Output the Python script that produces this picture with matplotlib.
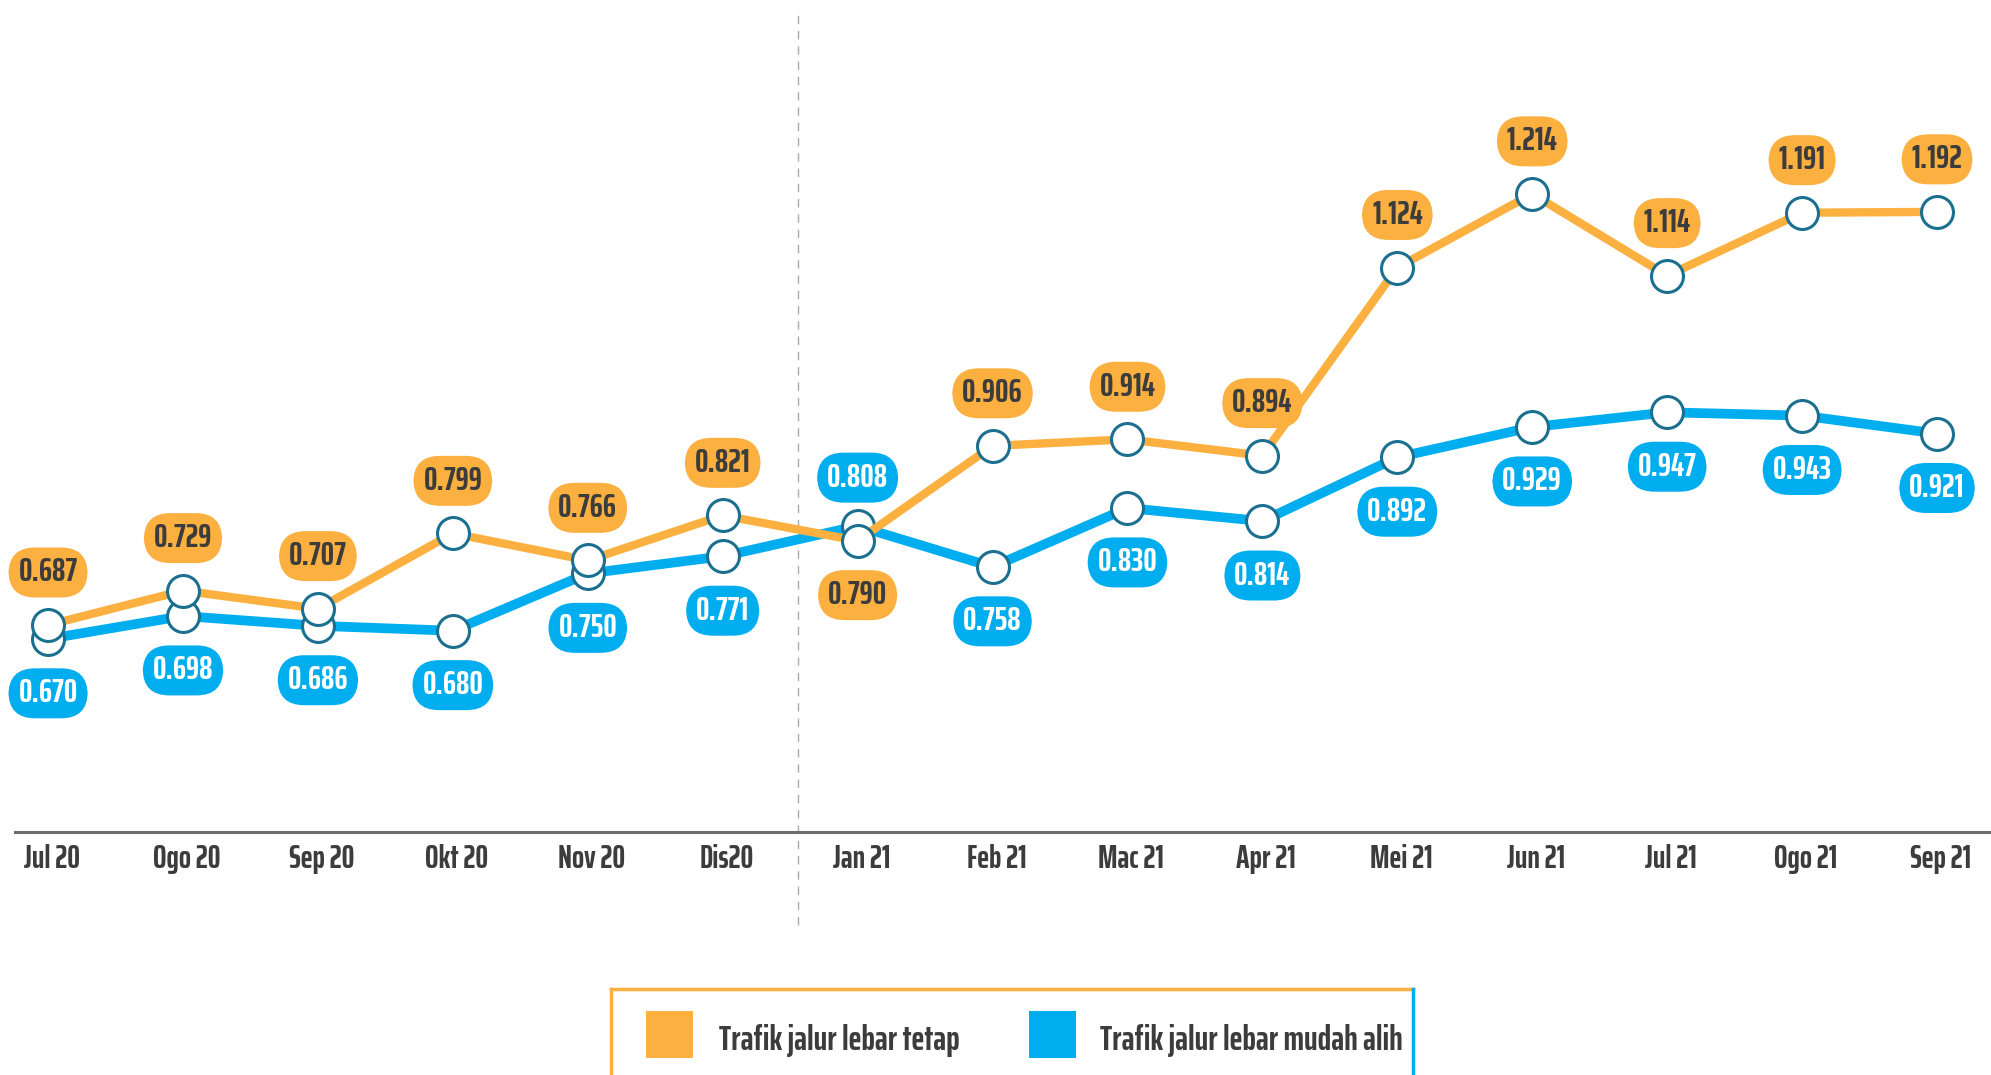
import matplotlib.pyplot as plt
import matplotlib.transforms as mtransforms
from matplotlib.patches import Rectangle
from matplotlib.lines import Line2D

months = ['Jul 20', 'Ogo 20', 'Sep 20', 'Okt 20', 'Nov 20', 'Dis20', 'Jan 21',
          'Feb 21', 'Mac 21', 'Apr 21', 'Mei 21', 'Jun 21', 'Jul 21', 'Ogo 21', 'Sep 21']
tetap = [0.687, 0.729, 0.707, 0.799, 0.766, 0.821, 0.790,
         0.906, 0.914, 0.894, 1.124, 1.214, 1.114, 1.191, 1.192]
mudah_alih = [0.670, 0.698, 0.686, 0.680, 0.750, 0.771, 0.808,
              0.758, 0.830, 0.814, 0.892, 0.929, 0.947, 0.943, 0.921]
series_names = ['Trafik jalur lebar tetap', 'Trafik jalur lebar mudah alih']

ORANGE = '#FBB040'
BLUE = '#00AEEF'
DARK = '#3C3C3C'
EDGE = '#1B6F8F'

plt.rcParams['font.family'] = ['Saira ExtraCondensed', 'DejaVu Sans']
plt.rcParams['font.weight'] = 'bold'

fig = plt.figure(figsize=(19.91, 10.75), dpi=100)
ax = fig.add_axes([15 / 1991, 1 - 832 / 1075, 1 - 15 / 1991, 832 / 1075])
ax.set_xlim(-0.245, 14.40)
ax.set_ylim(0.434, 1.451)

x = list(range(len(months)))
mk = dict(marker='o', markersize=23, markerfacecolor='white',
          markeredgecolor=EDGE, markeredgewidth=2.2)
ax.plot(x, mudah_alih, color=BLUE, lw=7, zorder=2, **mk)
ax.plot(x, tetap, color=ORANGE, lw=6, zorder=3, **mk)

# value labels: orange above, blue below (swapped at Jan 21)
swap = [6]
box = 'round,pad=0.3,rounding_size=0.8'
for i in x:
    up = i not in swap
    ax.annotate(f'{tetap[i]:.3f}', (i, tetap[i]), xytext=(0, 40 if up else -37),
                textcoords='offset points', ha='center', va='center_baseline',
                fontsize=24, color=DARK, zorder=5,
                bbox=dict(boxstyle=box, fc=ORANGE, ec='none'))
    ax.annotate(f'{mudah_alih[i]:.3f}', (i, mudah_alih[i]), xytext=(0, -37 if up else 37),
                textcoords='offset points', ha='center', va='center_baseline',
                fontsize=24, color='white', zorder=5,
                bbox=dict(boxstyle=box, fc=BLUE, ec='none'))

ax.set_xticks(x)
ax.set_xticklabels(months, fontsize=23, color=DARK)
ax.tick_params(axis='x', length=0, pad=9)
shift = mtransforms.ScaledTranslation(4 / 100, 0, fig.dpi_scale_trans)
for lab in ax.get_xticklabels():
    lab.set_transform(lab.get_transform() + shift)
ax.set_yticks([])
for s in ['top', 'right', 'left']:
    ax.spines[s].set_visible(False)
ax.spines['bottom'].set_color('#6D6D6D')
ax.spines['bottom'].set_linewidth(2.2)

ax.axvline(5.56, ymin=-0.112, ymax=0.988, clip_on=False, color='#AAAAAA',
           lw=1, ls=(0, (6, 5)), zorder=1)

# legend box, drawn by hand (bottom edge falls off the picture)
W, H = 1991, 1075
l, r, t = 611 / W, 1413 / W, 1 - 989 / H
fig.add_artist(Line2D([l, r], [t, t], color=ORANGE, lw=2.5))
fig.add_artist(Line2D([l, l], [t, 0], color=ORANGE, lw=2.5))
fig.add_artist(Line2D([r, r], [t, 0], color=BLUE, lw=2.5))
for (px, tx), c, name in zip([(646, 719), (1029, 1100)], [ORANGE, BLUE], series_names):
    fig.add_artist(Rectangle((px / W, 1 - 1058 / H), 47 / W, 47 / H,
                             fc=c, ec='none'))
    fig.text(tx / W, 1 - 1037 / H, name, fontsize=25, color=DARK,
             ha='left', va='center_baseline')

fig.savefig('out.png', dpi=100)
